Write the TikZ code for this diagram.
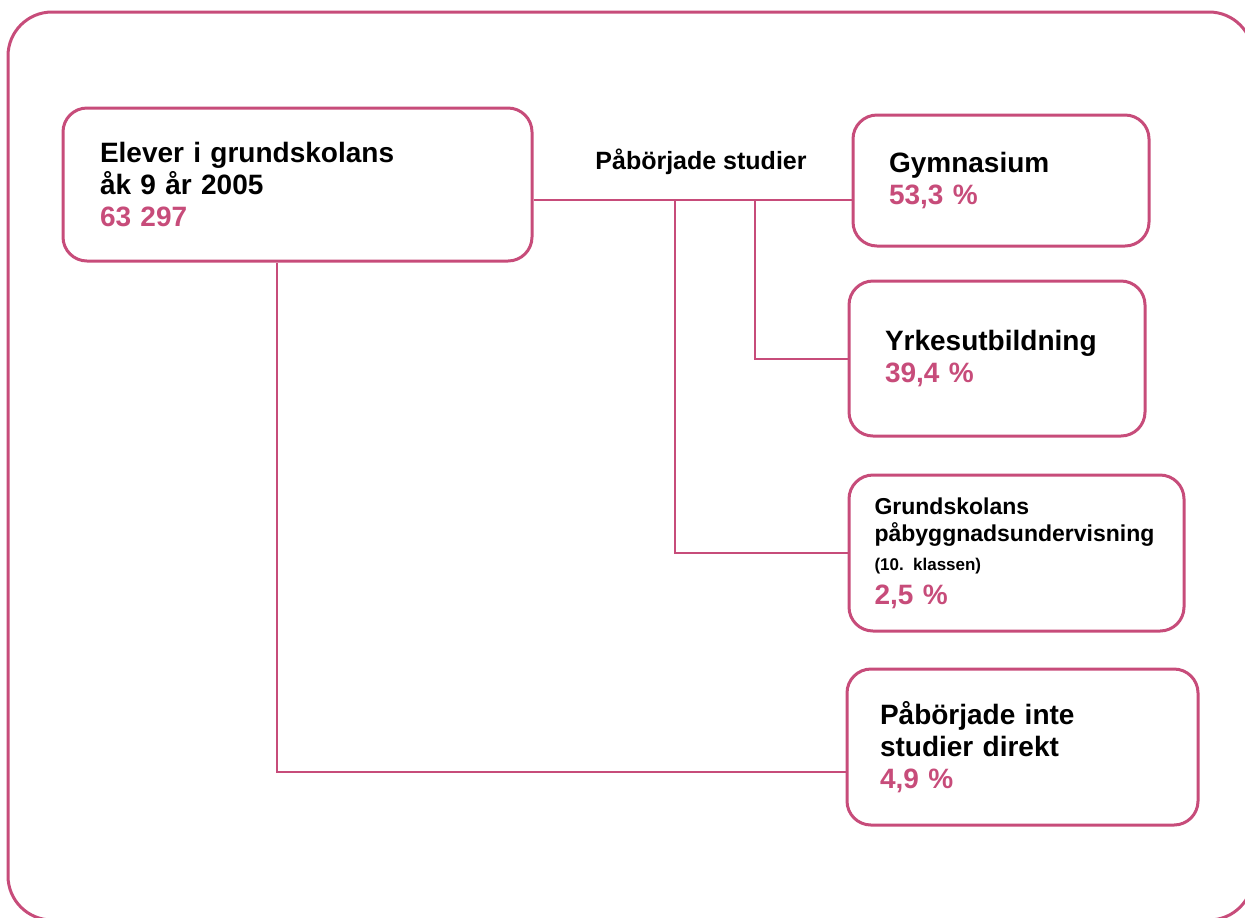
\documentclass[tikz,border=0pt]{standalone}
\usepackage{fontspec}
\setmainfont{Liberation Sans}
\usepackage{xcolor}
\usetikzlibrary{positioning}
\definecolor{rosa}{RGB}{199,76,122}
\frenchspacing

\begin{document}
\begin{tikzpicture}[
    x=0.5pt, y=-0.5pt,
    ruta/.style={draw=rosa, line width=1.5pt, rounded corners=12pt,
                 align=left, inner ysep=0pt, font=\fontsize{14}{16}\selectfont\bfseries},
    linje/.style={draw=rosa, line width=1pt},
]
\useasboundingbox (0,0) rectangle (1245,917);
%% Ram runt hela figuren
\draw[rosa, line width=1.5pt, rounded corners=22pt] (8,12) rectangle (1253,920);

%% Rutor: start till vänster, utfall till höger
\node[ruta, text width=197.5pt, inner xsep=18.5pt, minimum height=76.5pt]
    at (297.5,184.5) (start) {Elever i grundskolans\\åk 9 år 2005\\\textcolor{rosa}{63 297}};
\node[ruta, text width=112pt, inner xsep=18pt, minimum height=65.5pt]
    at (1001,180.5) (gym) {Gymnasium\\\textcolor{rosa}{53,3 \%}};
\node[ruta, text width=112pt, inner xsep=18pt, minimum height=77.5pt]
    at (997,358.5) (yrke) {Yrkesutbildning\\\textcolor{rosa}{39,4 \%}};
\node[ruta, text width=142pt, inner xsep=12.75pt, minimum height=78pt]
    at (1016.5,553) (grund) {{\fontsize{11.5}{13.5}\selectfont Grundskolans\\påbyggnadsundervisning\\[-1.5pt]
    {\fontsize{8.5}{10}\selectfont (10. klassen)}}\\[1pt]\textcolor{rosa}{2,5 \%}};
\node[ruta, text width=142.5pt, inner xsep=16.5pt, minimum height=78pt]
    at (1022.5,747) (inte) {Påbörjade inte\\studier direkt\\\textcolor{rosa}{4,9 \%}};

\node[font=\fontsize{12.5}{14}\selectfont\bfseries] at (701,162) (rubrik) {Påbörjade studier};

%% Förgreningspunkter
\coordinate (g1) at (675,200);
\coordinate (g2) at (755,200);
\coordinate (g3) at (277,772);

%% Linjer
\draw[linje] (start.east |- g1) -- (gym.west |- g1);
\draw[linje] (g1) |- (grund.west);
\draw[linje] (g2) |- (yrke.west);
\draw[linje] (start.south -| g3) -- (g3) -- (inte.west |- g3);
\end{tikzpicture}
\end{document}
